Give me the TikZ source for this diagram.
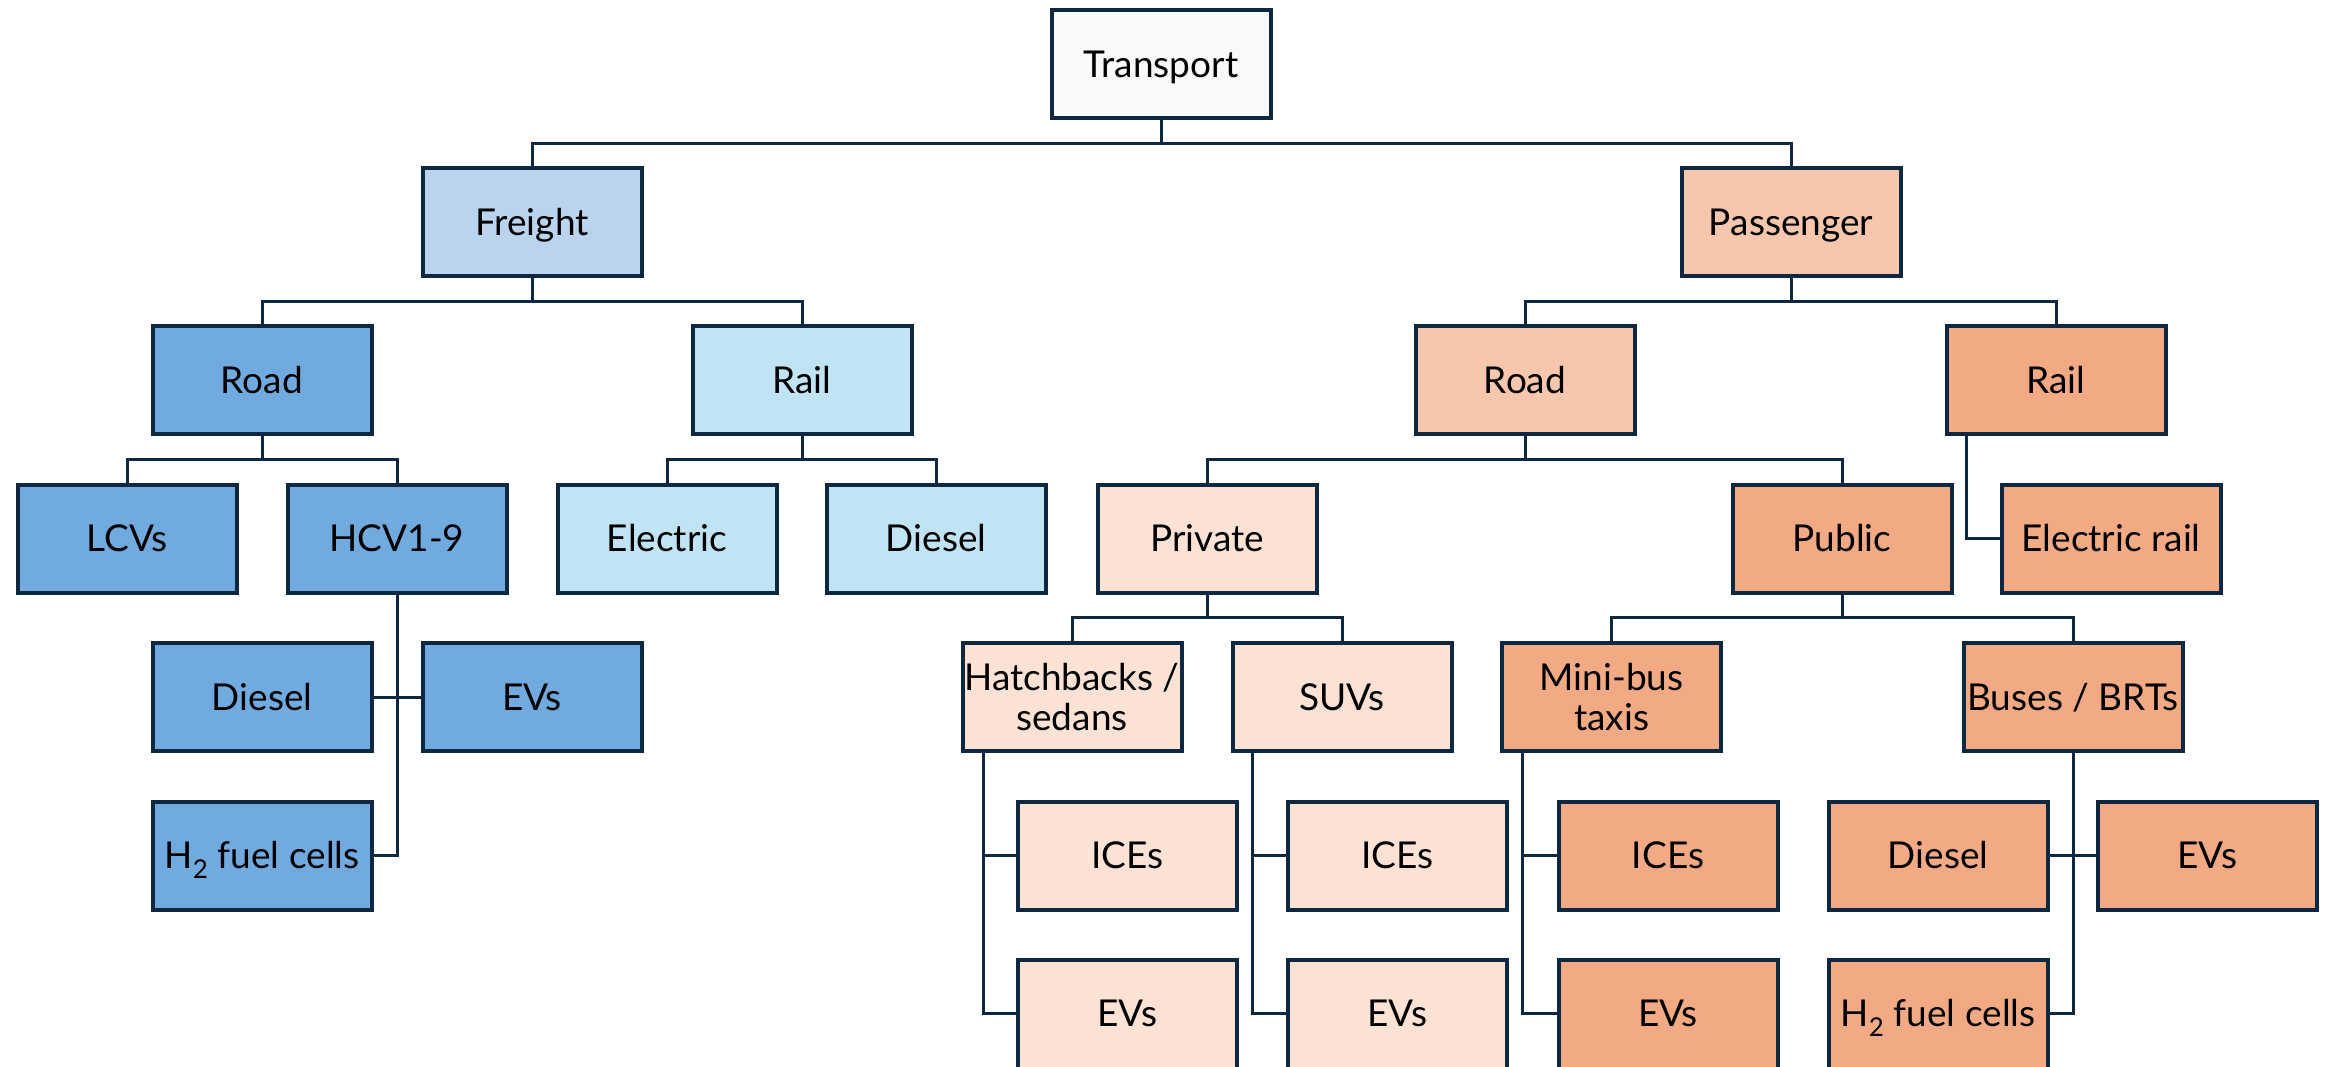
\documentclass[tikz,border=0pt]{standalone}
\usepackage{fontspec}
\setmainfont{Lato}
\definecolor{navy}{HTML}{0E2841}
\definecolor{tcol}{HTML}{F9F9F9}
\definecolor{blueA}{HTML}{BAD4F0}
\definecolor{blueB}{HTML}{71AADF}
\definecolor{blueC}{HTML}{C1E4F5}
\definecolor{orA}{HTML}{F6C6AD}
\definecolor{orB}{HTML}{F1AA84}
\definecolor{orC}{HTML}{FBE2D5}
\begin{document}
\begin{tikzpicture}[x=1pt,y=-1pt,
  basebox/.style={draw=navy, line width=4pt, minimum width=219pt, minimum height=108pt,
    inner sep=0pt, text=black, font=\fontsize{37}{39.5}\selectfont},
  box/.style={basebox, text height=26.5pt, text depth=0pt},
  twobox/.style={basebox, align=center, text depth=0pt},
  cutbox/.style={basebox, minimum height=156pt, text height=26.5pt, text depth=48pt},
  conn/.style={draw=navy, line width=3pt}
]
\useasboundingbox (0,0) rectangle (2331,1067);
\clip (0,0) rectangle (2331,1067);

% level 0-1
\node[box, fill=tcol]  (t)   at (1161,64)    {Transport};
\node[box, fill=blueA] (fr)  at (532,222)    {Freight};
\node[box, fill=orA]   (pa)  at (1791,222)   {Passenger};
% level 2
\node[box, fill=blueB] (frd) at (262,380)    {Road};
\node[box, fill=blueC] (frl) at (802,380)    {Rail};
\node[box, fill=orA]   (prd) at (1525,380)   {Road};
\node[box, fill=orB]   (prl) at (2056,380)   {Rail};
% level 3
\node[box, fill=blueB] (lcv) at (127,538.5)  {LCVs};
\node[box, fill=blueB] (hcv) at (397,538.5)  {HCV1-9};
\node[box, fill=blueC] (el)  at (667,538.5)  {Electric};
\node[box, fill=blueC] (di)  at (936,538.5)  {Diesel};
\node[box, fill=orC]   (pri) at (1207,538.5) {Private};
\node[box, fill=orB]   (pub) at (1842,538.5) {Public};
\node[box, fill=orB]   (erl) at (2111,538.5) {Electric rail};
% level 4
\node[box, fill=blueB] (fdi) at (262,697)    {Diesel};
\node[box, fill=blueB] (fev) at (532,697)    {EVs};
\node[twobox, fill=orC] (hat) at (1072,697)  {Hatchbacks /\\sedans};
\node[box, fill=orC]   (suv) at (1342,697)   {SUVs};
\node[twobox, fill=orB] (mbt) at (1611.5,697) {Mini-bus\\taxis};
\node[box, fill=orB]   (bus) at (2073,697)   {Buses / BRTs};
% level 5
\node[box, fill=blueB] (fh2) at (262,855.5)  {H\textsubscript{2} fuel cells};
\node[box, fill=orC]   (hice) at (1127.5,855.5) {ICEs};
\node[box, fill=orC]   (sice) at (1397.5,855.5) {ICEs};
\node[box, fill=orB]   (mice) at (1668,855.5)   {ICEs};
\node[box, fill=orB]   (bdi)  at (1938,855.5)   {Diesel};
\node[box, fill=orB]   (bev)  at (2207,855.5)   {EVs};
% level 6 (cut by the picture's lower edge)
\node[cutbox, fill=orC] (hev) at (1127.5,1037.5) {EVs};
\node[cutbox, fill=orC] (sev) at (1397.5,1037.5) {EVs};
\node[cutbox, fill=orB] (mev) at (1668,1037.5)   {EVs};
\node[cutbox, fill=orB] (bh2) at (1938,1037.5)   {H\textsubscript{2} fuel cells};

% tree connectors
\foreach \p/\c in {t/fr, t/pa, fr/frd, fr/frl, pa/prd, pa/prl,
                   frd/lcv, frd/hcv, frl/el, frl/di, prd/pri, prd/pub,
                   pri/hat, pri/suv, pub/mbt, pub/bus}
  \draw[conn] (\p.south) -- ++(0,23.25) -| (\c.north);

% side stems
\draw[conn] (hcv.south) |- (fh2.east);
\draw[conn] (fdi.east) -- (fev.west);
\draw[conn] ([xshift=22pt]prl.south west) |- (erl.west);
\draw[conn] ([xshift=22.5pt]hat.south west) |- (hice.west);
\draw[conn] ([xshift=22.5pt]hat.south west) |- ([yshift=24pt]hev.west);
\draw[conn] ([xshift=22pt]suv.south west) |- (sice.west);
\draw[conn] ([xshift=22pt]suv.south west) |- ([yshift=24pt]sev.west);
\draw[conn] ([xshift=22pt]mbt.south west) |- (mice.west);
\draw[conn] ([xshift=22pt]mbt.south west) |- ([yshift=24pt]mev.west);
\draw[conn] (bus.south) |- ([yshift=24pt]bh2.east);
\draw[conn] (bdi.east) -- (bev.west);
\end{tikzpicture}
\end{document}
